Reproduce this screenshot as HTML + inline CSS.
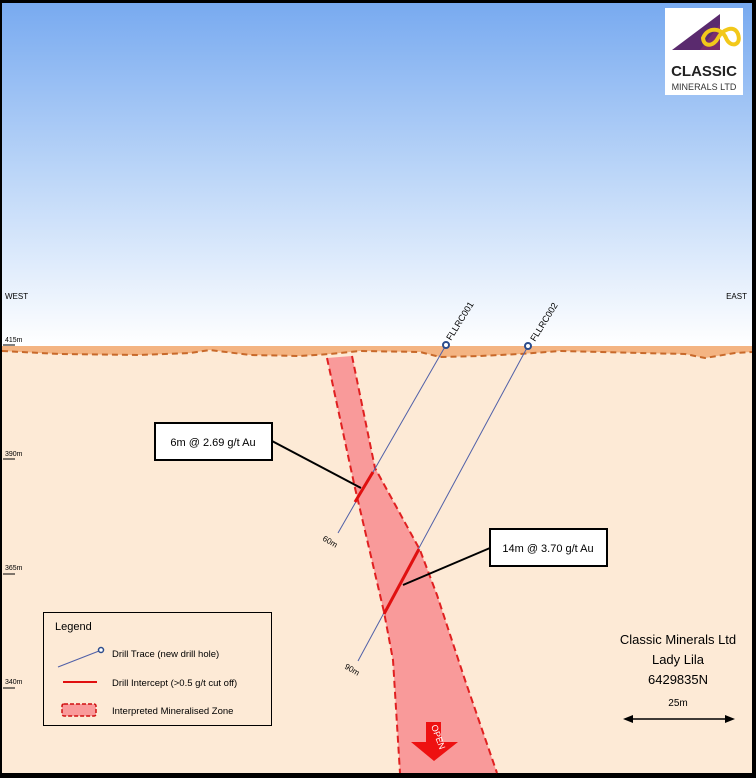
<!DOCTYPE html>
<html><head><meta charset="utf-8"><style>
html,body{margin:0;padding:0;background:#000;}
svg{display:block;font-family:"Liberation Sans",sans-serif;}
</style></head><body>
<svg width="756" height="778" viewBox="0 0 756 778" xmlns="http://www.w3.org/2000/svg">
<defs>
<linearGradient id="sky" x1="0" y1="0" x2="0" y2="1">
<stop offset="0" stop-color="#78aaf0"/>
<stop offset="0.5" stop-color="#bcd6f8"/>
<stop offset="1" stop-color="#ffffff"/>
</linearGradient>
</defs>
<rect x="0" y="0" width="756" height="778" fill="#000"/>
<rect x="2" y="3" width="750" height="343" fill="url(#sky)"/>
<rect x="2" y="346" width="750" height="427" fill="#fdead6"/>
<!-- surface band -->
<path d="M2,346 L752,346 L752,352 L735,353 L705,358 L685,354 L640,353 L600,352 L560,351 L520,354 L480,356 L440,357 L420,352 L360,351 L330,354 L300,356 L250,355 L210,350 L190,353 L140,355 L60,354 L2,351 Z" fill="#f4b482"/>
<path d="M2,351 L60,354 L140,355 L190,353 L210,350 L250,355 L300,356 L330,354 L360,351 L420,352 L440,357 L480,356 L520,354 L560,351 L600,352 L640,353 L685,354 L705,358 L735,353 L752,352" fill="none" stroke="#c8692a" stroke-width="2" stroke-dasharray="6,4"/>
<!-- zone -->
<path d="M327,358 L352,356 L375,468 L420,550 L437,595 L465,680 L497,773 L400,773 L393,660 L384,612 L355,488 Z" fill="#f99a9a"/>
<path d="M352,356 L375,468 L420,550 L437,595 L465,680 L497,773" fill="none" stroke="#e02020" stroke-width="2" stroke-dasharray="7,4"/>
<path d="M327,358 L355,488 L384,612 L393,660 L400,773" fill="none" stroke="#e02020" stroke-width="2" stroke-dasharray="7,4"/>
<!-- open arrow -->
<polygon points="426,722 441,722 441,742 458,742 434,761 411,742 426,742" fill="#ee1111"/>
<text x="0" y="0" font-size="9" fill="#fff" transform="translate(431,726) rotate(70)">OPEN</text>
<!-- drill traces -->
<line x1="446" y1="345" x2="338" y2="533" stroke="#5060a8" stroke-width="1"/>
<line x1="528" y1="346" x2="358" y2="661" stroke="#5060a8" stroke-width="1"/>
<circle cx="446" cy="345" r="3" fill="#fff" stroke="#2c4c8c" stroke-width="2"/>
<circle cx="528" cy="346" r="3" fill="#fff" stroke="#2c4c8c" stroke-width="2"/>
<text font-size="9" transform="translate(451,341) rotate(-58)">FLLRC001</text>
<text font-size="9" transform="translate(535,342) rotate(-58)">FLLRC002</text>
<text font-size="8" transform="translate(322,540) rotate(30)">60m</text>
<text font-size="8" transform="translate(344,668) rotate(30)">90m</text>
<!-- intercepts -->
<line x1="373" y1="472" x2="355" y2="502" stroke="#e01010" stroke-width="3"/>
<line x1="419" y1="549" x2="384" y2="614" stroke="#e01010" stroke-width="3"/>
<!-- callouts -->
<line x1="272" y1="441" x2="361" y2="488" stroke="#000" stroke-width="2"/>
<rect x="155" y="423" width="117" height="37" fill="#fff" stroke="#000" stroke-width="2"/>
<text x="213" y="446" font-size="11" text-anchor="middle">6m @ 2.69 g/t Au</text>
<line x1="490" y1="548" x2="403" y2="585" stroke="#000" stroke-width="2"/>
<rect x="490" y="529" width="117" height="37" fill="#fff" stroke="#000" stroke-width="2"/>
<text x="548" y="552" font-size="11" text-anchor="middle">14m @ 3.70 g/t Au</text>
<!-- labels -->
<text x="5" y="299" font-size="8">WEST</text>
<text x="747" y="299" font-size="8" text-anchor="end">EAST</text>
<g font-size="7">
<text x="5" y="342">415m</text><line x1="3" y1="345" x2="15" y2="345" stroke="#000"/>
<text x="5" y="456">390m</text><line x1="3" y1="459" x2="15" y2="459" stroke="#000"/>
<text x="5" y="570">365m</text><line x1="3" y1="574" x2="15" y2="574" stroke="#000"/>
<text x="5" y="684">340m</text><line x1="3" y1="688" x2="15" y2="688" stroke="#000"/>
</g>
<!-- legend -->
<rect x="43.5" y="612.5" width="228" height="113" fill="#fdead6" stroke="#000" stroke-width="1"/>
<text x="55" y="630" font-size="11">Legend</text>
<line x1="58" y1="667" x2="99" y2="651" stroke="#5060a8"/>
<circle cx="101" cy="650" r="2.5" fill="#fff" stroke="#2c4c8c" stroke-width="1.5"/>
<text x="112" y="657" font-size="9.5">Drill Trace (new drill hole)</text>
<line x1="63" y1="682" x2="97" y2="682" stroke="#e01010" stroke-width="2"/>
<text x="112" y="686" font-size="9.5">Drill Intercept (&gt;0.5 g/t cut off)</text>
<rect x="62" y="704" width="34" height="12" rx="2" fill="#f99a9a" stroke="#d01010" stroke-width="1.5" stroke-dasharray="4,2"/>
<text x="112" y="714" font-size="9.5">Interpreted Mineralised Zone</text>
<!-- title -->
<g font-size="13" text-anchor="middle">
<text x="678" y="644">Classic Minerals Ltd</text>
<text x="678" y="664">Lady Lila</text>
<text x="678" y="684">6429835N</text>
</g>
<text x="678" y="706" font-size="10" text-anchor="middle">25m</text>
<line x1="630" y1="719" x2="727" y2="719" stroke="#000" stroke-width="1.5"/>
<polygon points="623,719 633,715 633,723" fill="#000"/>
<polygon points="735,719 725,715 725,723" fill="#000"/>
<!-- logo -->
<rect x="665" y="8" width="78" height="87" fill="#fff"/>
<polygon points="720,14 720,50 672,50" fill="#5a2a6e"/>
<polygon points="700,50 720,24 720,50" fill="#7a2c6e"/>
<path d="M703,38 C708,26 722,28 726,38 C730,48 742,46 738,34 C734,24 722,30 718,38 C714,46 704,48 703,38 Z" fill="none" stroke="#f2c81a" stroke-width="4"/>
<text x="704" y="76" font-size="15" font-weight="bold" text-anchor="middle" fill="#222">CLASSIC</text>
<text x="704" y="90" font-size="9" text-anchor="middle" fill="#333">MINERALS LTD</text>
</svg>
</body></html>
